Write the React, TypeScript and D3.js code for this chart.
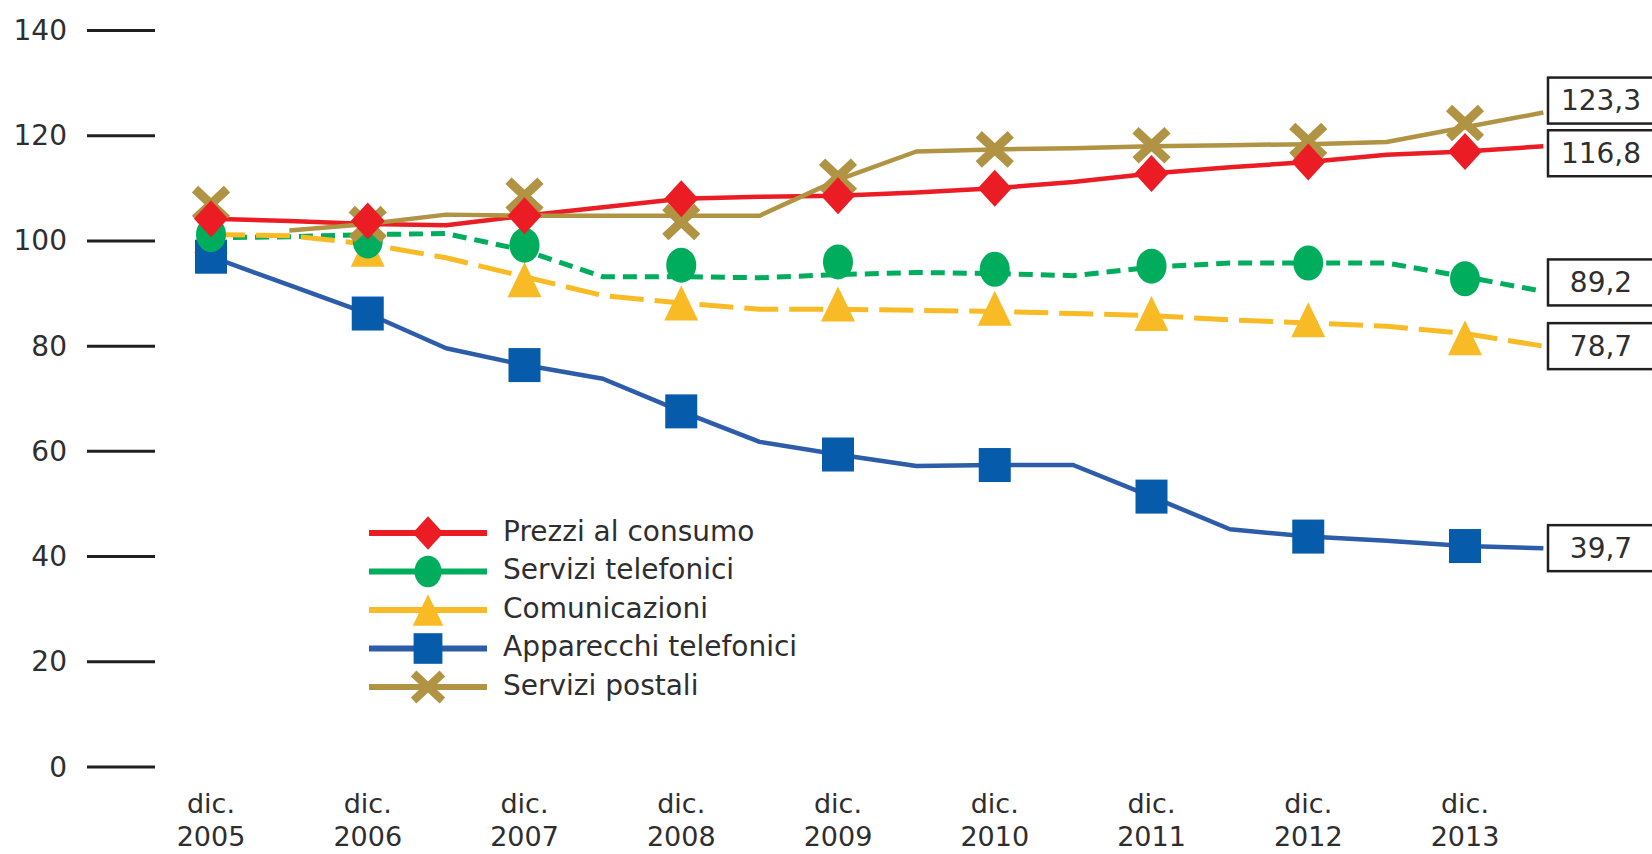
import * as d3 from 'd3';

// semestri (dicembre / giugno) da dic. 2005 a giu. 2014
const semestri = [
  'dic. 2005', 'giu. 2006', 'dic. 2006', 'giu. 2007', 'dic. 2007', 'giu. 2008',
  'dic. 2008', 'giu. 2009', 'dic. 2009', 'giu. 2010', 'dic. 2010', 'giu. 2011',
  'dic. 2011', 'giu. 2012', 'dic. 2012', 'giu. 2013', 'dic. 2013', 'giu. 2014',
];
const anni = ['2005', '2006', '2007', '2008', '2009', '2010', '2011', '2012', '2013'];
const yTicks = [0, 20, 40, 60, 80, 100, 120, 140];

// valori delle linee (semestrali)
const prezziLinea = [104.2, 103.8, 103.2, 103.0, 104.8, 106.4, 108.0, 108.4, 108.6, 109.2, 110.0, 111.2, 112.8, 114.0, 115.0, 116.4, 117.0, 118.0];
const telefoniciLinea = [100.6, 100.8, 101.2, 101.4, 98.2, 93.2, 93.2, 93.0, 93.6, 94.0, 93.8, 93.4, 95.0, 95.8, 95.8, 95.8, 93.2, 90.4];
const comunicazioniLinea = [101.2, 101.0, 99.4, 96.8, 93.2, 89.6, 88.2, 87.0, 87.0, 86.8, 86.6, 86.2, 85.8, 85.0, 84.4, 83.8, 82.4, 80.0];
const apparecchiLinea = [97.0, 91.6, 86.2, 79.6, 76.4, 73.8, 67.6, 61.8, 59.4, 57.2, 57.4, 57.4, 51.4, 45.2, 43.8, 43.0, 42.0, 41.6];
const postaliLinea = [null, 102.0, 103.2, 105.0, 104.8, 104.8, 104.8, 104.8, 111.6, 117.0, 117.4, 117.6, 118.0, 118.2, 118.4, 118.8, 121.6, 124.4];

// valori dei marcatori (dicembre di ogni anno)
const prezziPunti = [104.2, 103.8, 104.8, 108.0, 108.6, 110.0, 112.8, 115.0, 117.0];
const telefoniciPunti = [101.2, 100.0, 99.2, 95.4, 96.0, 94.6, 95.2, 95.8, 92.8];
const comunicazioniPunti = [101.0, 98.4, 92.6, 88.2, 88.0, 87.2, 86.2, 85.0, 81.6];
const apparecchiPunti = [97.0, 86.2, 76.4, 67.6, 59.4, 57.4, 51.4, 43.8, 42.0];
const postaliPunti = [107.0, 103.2, 108.6, 103.6, 112.2, 117.4, 118.2, 119.0, 122.4];

// etichette finali
const etichette = ['123,3', '116,8', '89,2', '78,7', '39,7'];

const W = 1652;
const H = 854;
const FONT = '"DejaVu Sans", Verdana, sans-serif';
const TEXT = '#2e2e2e';

const x = d3.scaleLinear().domain([0, 16]).range([211, 1465]);
const y = d3.scaleLinear().domain([0, 140]).range([767, 30.5]);

const series = [
  { name: 'Prezzi al consumo', color: '#ec1c24', line: prezziLinea, punti: prezziPunti, marker: 'diamond', dash: null },
  { name: 'Servizi telefonici', color: '#00ad5c', line: telefoniciLinea, punti: telefoniciPunti, marker: 'circle', dash: '14 8' },
  { name: 'Comunicazioni', color: '#f8bb25', line: comunicazioniLinea, punti: comunicazioniPunti, marker: 'triangle', dash: '34 11' },
  { name: 'Apparecchi telefonici', color: '#065bab', lineColor: '#2d5ca9', line: apparecchiLinea, punti: apparecchiPunti, marker: 'square', dash: null },
  { name: 'Servizi postali', color: '#b09443', line: postaliLinea, punti: postaliPunti, marker: 'cross', dash: null },
];
// ordine di disegno dei marcatori (dal basso verso l'alto)
const ordineMarcatori = [2, 3, 1, 4, 0];
// spostamento verticale delle etichette finali per evitare sovrapposizioni
const nudge = [-12, 7, -9, 0, 0];
const labelOrder = [4, 0, 1, 2, 3];

function Marker({ type, cx, cy, color, s = 1 }) {
  if (type === 'diamond') {
    const w = 17 * s, h = 18.5 * s;
    return <polygon points={`${cx},${cy - h} ${cx + w},${cy} ${cx},${cy + h} ${cx - w},${cy}`} fill={color} />;
  }
  if (type === 'circle') {
    return <ellipse cx={cx} cy={cy} rx={15 * s} ry={17.5 * s} fill={color} />;
  }
  if (type === 'triangle') {
    const w = 17 * s, h = 17.5 * s;
    return <polygon points={`${cx},${cy - h} ${cx + w},${cy + h} ${cx - w},${cy + h}`} fill={color} />;
  }
  if (type === 'square') {
    return <rect x={cx - 16 * s} y={cy - 17 * s} width={32 * s} height={34 * s} fill={color} />;
  }
  const a = 16 * s, b = 15 * s;
  return (
    <g stroke={color} strokeWidth={9 * s}>
      <line x1={cx - a} y1={cy - b} x2={cx + a} y2={cy + b} />
      <line x1={cx - a} y1={cy + b} x2={cx + a} y2={cy - b} />
    </g>
  );
}

export default function App() {
  const line = d3
    .line<number | null>()
    .defined((d) => d != null)
    .x((_, i) => x(i))
    .y((d) => y(d as number));

  return (
    <div style={{ position: 'absolute', left: 0, top: 0 }}>
      <svg width={W} height={H} style={{ display: 'block', background: '#fff' }} fontFamily={FONT}>
        {/* asse y */}
        {yTicks.map((t) => (
          <g key={t}>
            <line x1={87} x2={155} y1={y(t)} y2={y(t)} stroke="#231f20" strokeWidth={3} />
            <text x={67} y={y(t)} textAnchor="end" dominantBaseline="central" fontSize={28} fill={TEXT}>
              {t}
            </text>
          </g>
        ))}

        {/* asse x */}
        {anni.map((a, i) => (
          <g key={a} fontSize={27} fill={TEXT} textAnchor="middle">
            <text x={x(i * 2)} y={803} dominantBaseline="central">dic.</text>
            <text x={x(i * 2)} y={836} dominantBaseline="central">{a}</text>
          </g>
        ))}

        {/* linee */}
        {series.map((s) => (
          <path
            key={s.name}
            d={line(s.line) || ''}
            fill="none"
            stroke={s.lineColor || s.color}
            strokeWidth={s.dash ? 5 : 4.5}
            strokeDasharray={s.dash || undefined}
            strokeLinejoin="round"
          />
        ))}

        {/* marcatori */}
        {ordineMarcatori.map((k) => {
          const s = series[k];
          return (
            <g key={s.name}>
              {s.punti.map((v, i) => (
                <Marker key={i} type={s.marker} cx={x(i * 2)} cy={y(v)} color={s.color} />
              ))}
            </g>
          );
        })}

        {/* etichette finali */}
        {labelOrder.map((k, i) => {
          const s = series[k];
          const last = s.line[s.line.length - 1] as number;
          const cy = y(last) + nudge[i];
          return (
            <g key={etichette[i]}>
              <rect x={1548} y={cy - 23} width={120} height={46} fill="#fff" stroke="#231f20" strokeWidth={2.5} />
              <text x={1601} y={cy} textAnchor="middle" dominantBaseline="central" fontSize={28} fill={TEXT}>
                {etichette[i]}
              </text>
            </g>
          );
        })}

        {/* legenda */}
        {series.map((s, i) => {
          const ly = 533 + i * 38.5;
          return (
            <g key={s.name}>
              <line x1={369} x2={487} y1={ly} y2={ly} stroke={s.lineColor || s.color} strokeWidth={6} />
              <Marker type={s.marker} cx={428} cy={ly} color={s.color} s={0.9} />
              <text x={503} y={ly - 2} dominantBaseline="central" fontSize={28} fill={TEXT}>
                {s.name}
              </text>
            </g>
          );
        })}
      </svg>
    </div>
  );
}
